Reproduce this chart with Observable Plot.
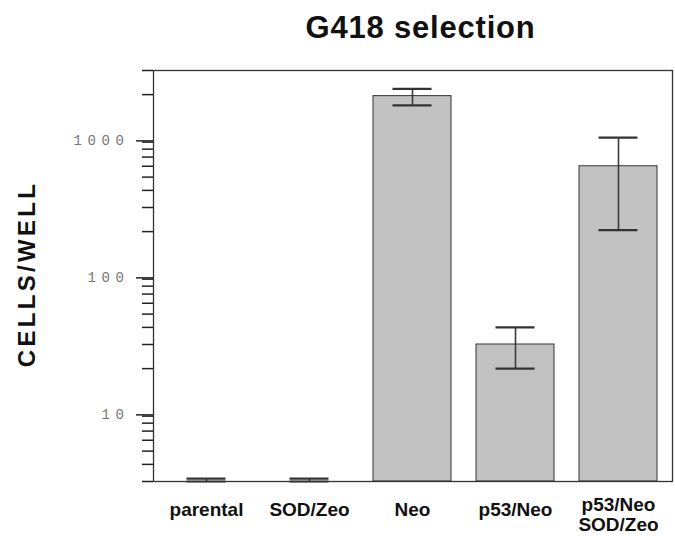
<!DOCTYPE html>
<html>
<head>
<meta charset="utf-8">
<script src="https://cdn.jsdelivr.net/npm/d3@7"></script>
<script src="https://cdn.jsdelivr.net/npm/@observablehq/plot@0.6"></script>
<style>
  html, body { margin: 0; padding: 0; background: #fff; }
</style>
</head>
<body>
<div id="chart"></div>
<script>
// ---- data ----
const categories = ["parental", "SOD/Zeo", "Neo", "p53/Neo", "p53/Neo\nSOD/Zeo"];
const cellsPerWell = [null, null, 1950, 30, 600];
const errLow  = [3.0, 3.0, 1670, 20, 205];
const errHigh = [3.15, 3.15, 2200, 40, 970];
const majorTicks = [10, 100, 1000];
const minorTicks = [3, 4, 5, 6, 7, 8, 9, 20, 30, 40, 50, 60, 70, 80, 90,
                    200, 300, 400, 500, 600, 700, 800, 900, 2000, 3000];
const yDomain = [3, 3000];
const title = "G418 selection";
const yLabel = "CELLS/WELL";

const rows = categories.map((c, i) => ({
  cat: c, value: cellsPerWell[i], lo: errLow[i], hi: errHigh[i]
}));
const bars = rows.filter(d => d.value != null);

const singleLine = categories.filter(c => !c.includes("\n"));
const multiLine = categories.filter(c => c.includes("\n"));

const spaced = d => String(d).split("").join(" ");

const chart = Plot.plot({
  width: 675,
  height: 536,
  marginLeft: 153,
  marginRight: 3,
  marginTop: 70,
  marginBottom: 55,
  style: { fontFamily: "'Liberation Sans', Arial, sans-serif", background: "#fff", color: "#222" },
  x: { type: "band", domain: categories, paddingInner: 0.24, paddingOuter: 0.12, axis: null },
  y: { type: "log", domain: yDomain, axis: null },
  marks: [
    Plot.barY(bars, { x: "cat", y1: yDomain[0], y2: "value", fill: "#c2c2c2", stroke: "#333", strokeWidth: 1 }),
    Plot.ruleX(rows, { x: "cat", y1: "lo", y2: "hi", stroke: "#3a3a3a", strokeWidth: 1.6 }),
    Plot.tickY(rows, { x: "cat", y: "lo", stroke: "#333", strokeWidth: 2.2, inset: 19.5 }),
    Plot.tickY(rows, { x: "cat", y: "hi", stroke: "#333", strokeWidth: 2.2, inset: 19.5 }),
    Plot.frame({ stroke: "#333", strokeWidth: 1.3 }),
    Plot.axisY({ ticks: minorTicks, tickSize: 11, tickFormat: null, text: null, stroke: "#222", strokeWidth: 1.5, label: null }),
    Plot.axisY({ ticks: majorTicks, tickSize: 17, tickPadding: 14, tickFormat: spaced, stroke: "#222", strokeWidth: 1.5,
                 fill: "#777", fontFamily: "'Liberation Mono', monospace", fontSize: 14, dy: 5, label: null }),
    Plot.axisX({ ticks: singleLine, tickSize: 0, tickPadding: 21, fontSize: 19, fontWeight: "bold",
                 letterSpacing: 0.5, fill: "#111", label: null }),
    Plot.axisX({ ticks: multiLine, tickSize: 0, tickPadding: 15, fontSize: 19, fontWeight: "bold",
                 lineHeight: 1.05, fill: "#111", label: null }),
    Plot.text([title], { frameAnchor: "top", lineAnchor: "bottom", dy: -33, dx: 7.5,
                         fontSize: 31, fontWeight: "bold", fill: "#111" }),
    Plot.text([yLabel], { frameAnchor: "left", textAnchor: "middle", rotate: -90, dx: -126, dy: -2,
                          fontSize: 24, fontWeight: "bold", fill: "#111" })
  ]
});

chart.querySelectorAll("text").forEach(t => {
  if (t.textContent === title) t.setAttribute("letter-spacing", "0.8");
  if (t.textContent === yLabel) t.setAttribute("letter-spacing", "3.3");
  if (/^\d( \d)+$/.test(t.textContent)) t.setAttribute("letter-spacing", "-1.4");
});
document.getElementById("chart").appendChild(chart);
</script>
</body>
</html>
